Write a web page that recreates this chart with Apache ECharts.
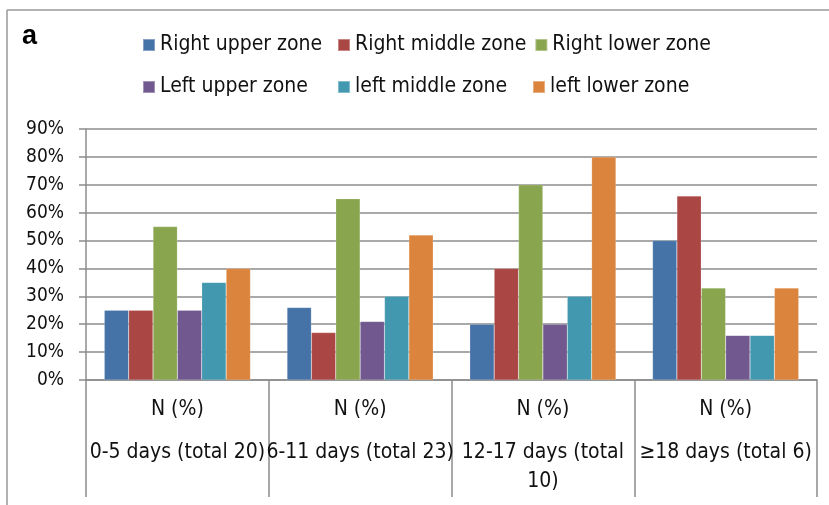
<!DOCTYPE html>
<html>
<head>
<meta charset="utf-8">
<script src="https://cdn.jsdelivr.net/npm/echarts@6/dist/echarts.min.js"></script>
<style>
  html, body { margin: 0; padding: 0; background: #fff; }
  #chart { width: 829px; height: 505px; }
</style>
</head>
<body>
<div id="chart"></div>
<script>
// categories along the x axis (the line break copies the wrap in the picture)
var categories = ["0-5 days (total 20)", "6-11 days (total 23)", "12-17 days (total\n10)", "≥18 days (total 6)"];
var yTicks = [0, 10, 20, 30, 40, 50, 60, 70, 80, 90];

var rightUpper = [25, 26, 20, 50];
var rightMiddle = [25, 17, 40, 66];
var rightLower = [55, 65, 70, 33];
var leftUpper = [25, 21, 20, 16];
var leftMiddle = [35, 30, 30, 16];
var leftLower = [40, 52, 80, 33];

var seriesNames = ["Right upper zone", "Right middle zone", "Right lower zone",
  "Left upper zone", "left middle zone", "left lower zone"];
var seriesData = [rightUpper, rightMiddle, rightLower, leftUpper, leftMiddle, leftLower];
var colors = ["#4572a7", "#aa4643", "#89a54e", "#71588f", "#4198af", "#db843d"];

var font = "'Liberation Sans Narrow', 'Arial Narrow', 'DejaVu Sans Condensed', sans-serif";
var gray = "#8c8c8c";

var chart = echarts.init(document.getElementById("chart"));

function legendBlock(names, top) {
  return {
    data: names,
    left: 137,
    top: top,
    padding: 5,
    orient: "horizontal",
    itemWidth: 12,
    itemHeight: 12,
    itemGap: 8,
    icon: "rect",
    selectedMode: false,
    textStyle: {
      fontFamily: font,
      fontSize: 21,
      color: "#111",
      width: 169,
      lineHeight: 24
    }
  };
}

var option = {
  animation: false,
  color: colors,
  legend: [
    legendBlock(seriesNames.slice(0, 3), 28),
    legendBlock(seriesNames.slice(3), 70)
  ],
  grid: {
    left: 86,
    right: 12,
    top: 129,
    bottom: 125,
    containLabel: false
  },
  xAxis: {
    type: "category",
    data: categories,
    axisLine: { lineStyle: { color: gray, width: 1.5 } },
    axisTick: {
      show: true,
      interval: 0,
      length: 117,
      lineStyle: { color: gray, width: 1.5 }
    },
    axisLabel: {
      interval: 0,
      margin: 2,
      fontFamily: font,
      color: "#111",
      formatter: function (v) {
        // "N (%)" line on top, then the category text
        return "{n|N (%)}\n" + v.split("\n").map(function (s) {
          return "{c|" + s + "}";
        }).join("\n");
      },
      rich: {
        n: { fontFamily: font, fontSize: 21, lineHeight: 56, color: "#111" },
        c: { fontFamily: font, fontSize: 21, lineHeight: 29, color: "#111" }
      }
    }
  },
  yAxis: {
    type: "value",
    min: yTicks[0],
    max: yTicks[yTicks.length - 1],
    interval: 10,
    axisLine: { show: true, lineStyle: { color: gray, width: 1.5 } },
    axisTick: { show: true, length: 7, lineStyle: { color: gray, width: 1.5 } },
    splitLine: { lineStyle: { color: gray, width: 1.5 } },
    axisLabel: {
      margin: 22,
      fontFamily: font,
      fontSize: 19,
      color: "#111",
      formatter: "{value}%"
    }
  },
  series: seriesNames.map(function (name, i) {
    return {
      name: name,
      type: "bar",
      data: seriesData[i],
      barGap: "0%",
      barCategoryGap: "20%",
      itemStyle: { borderColor: "rgba(255,255,255,0.35)", borderWidth: 0.5 }
    };
  }),
  graphic: [
    {
      type: "line",
      shape: { x1: 7, y1: 10, x2: 829, y2: 10 },
      style: { stroke: "#999", lineWidth: 1.5 }
    },
    {
      type: "line",
      shape: { x1: 7, y1: 10, x2: 7, y2: 505 },
      style: { stroke: "#999", lineWidth: 1.5 }
    },
    {
      type: "text",
      left: 22,
      top: 23,
      style: {
        text: "a",
        fontFamily: "'Liberation Sans', Arial, sans-serif",
        fontWeight: "bold",
        fontSize: 27,
        fill: "#000"
      }
    }
  ]
};

chart.setOption(option);
</script>
</body>
</html>
